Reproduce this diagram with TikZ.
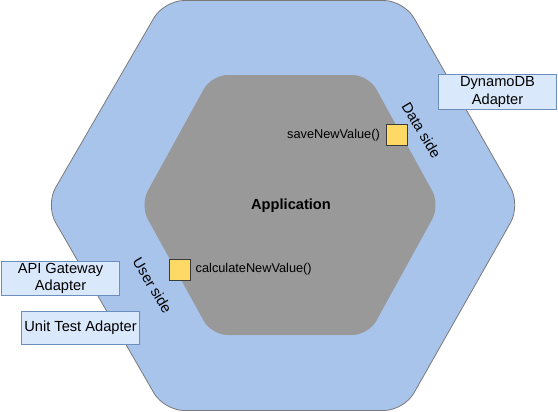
\documentclass[tikz,border=0pt]{standalone}
\usepackage{fontspec}
\setmainfont{Liberation Sans}
\definecolor{outerFill}{HTML}{A9C4EB}
\definecolor{outerBorder}{HTML}{7A7A7A}
\definecolor{innerFill}{HTML}{999999}
\definecolor{adFill}{HTML}{DAE8FC}
\definecolor{adBorder}{HTML}{6C8EBF}
\definecolor{portFill}{HTML}{FFD966}
\definecolor{portBorder}{HTML}{3A3A3A}
\begin{document}
\begin{tikzpicture}[x=1bp,y=-1bp,
  adapter/.style={draw=adBorder, fill=adFill, line width=1bp, minimum width=118bp,
    inner sep=0pt, align=center, font=\fontsize{14.7}{17.5}\selectfont},
  port/.style={draw=portBorder, fill=portFill, line width=1bp, minimum size=21bp, inner sep=0pt},
  lbl/.style={font=\fontsize{12.8}{15}\selectfont, inner sep=0pt},
  sidelbl/.style={font=\fontsize{14.7}{17}\selectfont, inner sep=0pt, rotate=-59},
  outerhex/.style={fill=outerFill, draw=outerBorder, line width=0.8bp, rounded corners=20bp},
  innerhex/.style={fill=innerFill, rounded corners=16bp}]
\useasboundingbox (0,0) rectangle (558,411);
% outer hexagon
\draw[outerhex] (284,0.5) -- (404,0.5) -- (520.5,205) -- (404,410.5) -- (164,410.5) -- (45.5,205) -- (164,0.5) -- cycle;
% inner hexagon
\fill[innerhex] (290,75) -- (368.5,75) -- (440,205) -- (368.5,335) -- (211.5,335) -- (140,205) -- (211.5,75) -- cycle;
% application
\node[font=\bfseries\fontsize{14.7}{17}\selectfont, inner sep=0pt] (app) at (291,206) {Application};
% ports
\node[port] (save) at (397,135) {};
\node[port] (calc) at (179.5,269.5) {};
\node[lbl, anchor=east] (savelbl) at (380,135.5) {saveNewValue()};
\node[lbl, anchor=west] (calclbl) at (195.5,269.5) {calculateNewValue()};
% side labels
\node[sidelbl] (data) at (421.5,130) {Data side};
\node[sidelbl] (user) at (152.5,285.5) {User side};
% adapters
\node[adapter, minimum height=35bp] (dynamo) at (497.5,92) {DynamoDB\\Adapter};
\node[adapter, minimum height=34bp] (api) at (60.5,278.5) {API Gateway\\Adapter};
\node[adapter, minimum height=33bp] (unit) at (80.5,328) {Unit Test Adapter};
\end{tikzpicture}
\end{document}
